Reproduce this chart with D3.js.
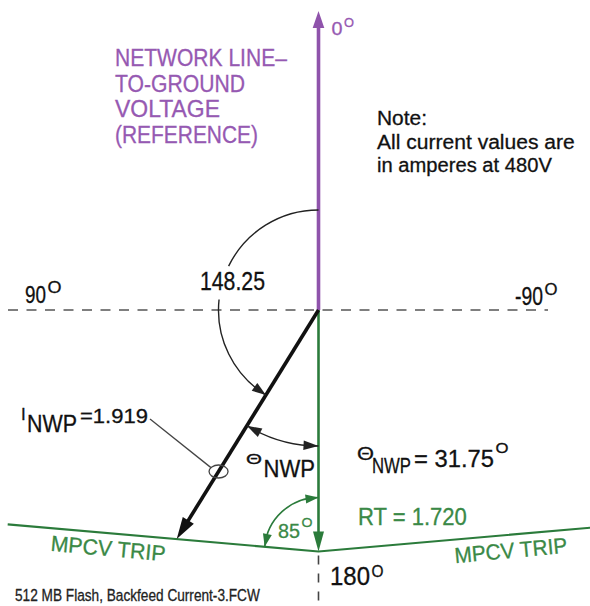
<!DOCTYPE html>
<html>
<head>
<meta charset="utf-8">
<title>Backfeed Current Phasor</title>
<script src="https://d3js.org/d3.v7.min.js"></script>
<style>
  body { margin: 0; background: #fff; }
  text { font-family: "Liberation Sans", Arial, Helvetica, sans-serif; stroke-width: 0.3px; }
</style>
</head>
<body>
<div id="chart"></div>
<script>
// values: amps at 480V, angles in degrees (0 = up, + = counter-clockwise)
var axisAngles = [0, 90, -90, 180];
var axisLabels = ['0', '90', '-90', '180'];
var phasorNames = ['I_NWP', 'RT'];
var phasorMagnitudes = [1.919, 1.720];
var phasorAngles = [148.25, 180];
var referenceMagnitude = 2.13;   // voltage reference, drawn length only
var tripAngle = 85;
var thetaNWP = 31.75;
var titleLines = ['NETWORK LINE\u2013', 'TO-GROUND', 'VOLTAGE', '(REFERENCE)'];
var noteLines = ['Note:', 'All current values are', 'in amperes at 480V'];
var footerText = '512 MB Flash, Backfeed Current-3.FCW';

// layout
var width = 590, height = 606;
var cx = 318.5, cy = 310;
var purple = '#8f53ab', purpleText = '#9659b2';
var green = '#2b7b3b', greenText = '#3a8946';
var ink = '#111';

var r = d3.scaleLinear().domain([0, 1]).range([0, 140.4]);

var svg = d3.select('#chart').append('svg')
  .attr('width', width)
  .attr('height', height);

function dirVec(deg) {
  var a = deg * Math.PI / 180;
  return [-Math.sin(a), -Math.cos(a)];
}
function polarPx(c, px, deg) {
  var d = dirVec(deg);
  return [c[0] + px * d[0], c[1] + px * d[1]];
}
function polar(mag, deg) {
  return polarPx([cx, cy], r(mag), deg);
}

function arrowHead(tip, base, halfW, color) {
  var dx = tip[0] - base[0], dy = tip[1] - base[1];
  var L = Math.sqrt(dx * dx + dy * dy);
  var nx = -dy / L * halfW, ny = dx / L * halfW;
  svg.append('path')
    .attr('d', 'M' + tip + 'L' + [base[0] + nx, base[1] + ny] + 'L' + [base[0] - nx, base[1] - ny] + 'Z')
    .attr('fill', color);
}

function arcPath(c, px, t0, t1) {
  var p = d3.path();
  var f0 = (-90 - t0) * Math.PI / 180, f1 = (-90 - t1) * Math.PI / 180;
  p.arc(c[0], c[1], px, f0, f1, t1 > t0);
  return p.toString();
}

// arc from t0 to t1 (degrees), optional arrowheads at either end
function angleArc(c, px, t0, t1, color, sw, head0, head1, len, halfW) {
  svg.append('path')
    .attr('d', arcPath(c, px, t0, t1))
    .attr('fill', 'none')
    .attr('stroke', color)
    .attr('stroke-width', sw);
  var da = len / px * 180 / Math.PI * (t1 > t0 ? 1 : -1);
  if (head1) arrowHead(polarPx(c, px, t1), polarPx(c, px, t1 - da), halfW, color);
  if (head0) arrowHead(polarPx(c, px, t0), polarPx(c, px, t0 + da), halfW, color);
}

// text squeezed horizontally to the width it has in the drawing
function label(x, y, str, size, len, color, rot, anchor) {
  var g = svg.append('g');
  var t = g.append('text')
    .attr('font-size', size)
    .attr('fill', color)
    .attr('stroke', color)
    .text(str);
  var k = 1;
  if (len) {
    var w = t.node().getComputedTextLength();
    if (w > 0) k = len / w;
  }
  if (anchor) t.attr('text-anchor', anchor);
  g.attr('transform', 'translate(' + x + ',' + y + ')' + (rot ? ' rotate(' + rot + ')' : '') + ' scale(' + k + ',1)');
  return t;
}

// number followed by a raised small "O" as the degree mark
function degLabel(o, num, color) {
  label(o.x, o.y, num, o.size, o.len, color);
  label(o.x + o.len + 1.5, o.y - o.shift, 'O', o.size * 0.64, o.oLen, color);
}

// ---- dashed axes (90 / -90 horizontal, 180 below the trip point)
var axisReach = [0, 310.5, 229.5, 0];
svg.append('line')
  .attr('x1', polarPx([cx, cy], axisReach[1], axisAngles[1])[0])
  .attr('y1', cy)
  .attr('x2', polarPx([cx, cy], axisReach[2], axisAngles[2])[0])
  .attr('y2', cy)
  .attr('stroke', '#555')
  .attr('stroke-width', 1.6)
  .attr('stroke-dasharray', '10,8.5');

var rtTip = polar(phasorMagnitudes[1], phasorAngles[1]);
svg.append('line')
  .attr('x1', rtTip[0]).attr('y1', rtTip[1] + 4)
  .attr('x2', rtTip[0]).attr('y2', height + 5)
  .attr('stroke', '#444')
  .attr('stroke-width', 1.6)
  .attr('stroke-dasharray', '9,9');

// ---- MPCV trip characteristic: line through RT at 85 degrees to the RT phasor
var back = phasorAngles[1] + 180;
var tripLeft = polarPx(rtTip, 312, back + tripAngle);
var tripRight = polarPx(rtTip, 276, back - tripAngle);
svg.append('path')
  .attr('d', 'M' + tripLeft + 'L' + rtTip + 'L' + tripRight)
  .attr('fill', 'none')
  .attr('stroke', green)
  .attr('stroke-width', 2.2);

// 85 degree arc
angleArc(rtTip, 54, back, back + tripAngle, green, 1.6, true, true, 13, 4.5);

// ---- reference (0 degrees)
var refTip = polar(referenceMagnitude, axisAngles[0]);
var refBase = polar(referenceMagnitude - 17 / r(1), axisAngles[0]);
svg.append('line')
  .attr('x1', cx).attr('y1', cy)
  .attr('x2', refBase[0]).attr('y2', refBase[1] - 2)
  .attr('stroke', purple)
  .attr('stroke-width', 3.6);
arrowHead(refTip, refBase, 5.8, purple);

// ---- RT phasor (green)
var rtBase = polar(phasorMagnitudes[1] - 20 / r(1), phasorAngles[1]);
svg.append('line')
  .attr('x1', cx).attr('y1', cy)
  .attr('x2', rtBase[0]).attr('y2', rtBase[1] + 2)
  .attr('stroke', green)
  .attr('stroke-width', 2.6);
arrowHead(rtTip, rtBase, 5.5, green);

// ---- I_NWP phasor (black)
var iTip = polar(phasorMagnitudes[0], phasorAngles[0]);
var iBase = polar(phasorMagnitudes[0] - 22 / r(1), phasorAngles[0]);
var iLineEnd = polar(phasorMagnitudes[0] - 12 / r(1), phasorAngles[0]);
svg.append('line')
  .attr('x1', cx).attr('y1', cy)
  .attr('x2', iLineEnd[0]).attr('y2', iLineEnd[1])
  .attr('stroke', ink)
  .attr('stroke-width', 3.6);
arrowHead(iTip, iBase, 6.5, ink);

// 148.25 arc from the reference, broken around its label
angleArc([cx, cy], 100, 0, 64, '#222', 1.4, false, false, 13, 4.5);
angleArc([cx, cy], 100, 84, phasorAngles[0], '#222', 1.4, false, true, 14, 4.8);

// theta_NWP arc between I_NWP and the RT axis
angleArc([cx, cy], 136, phasorAngles[0], phasorAngles[1], '#222', 1.4, true, true, 15, 4.8);

// leader from I_NWP label to the phasor
var ring = polar(phasorMagnitudes[0] * 0.705, phasorAngles[0]);
svg.append('ellipse')
  .attr('cx', ring[0]).attr('cy', ring[1])
  .attr('rx', 9.5).attr('ry', 6.5)
  .attr('fill', 'none')
  .attr('stroke', '#444')
  .attr('stroke-width', 1.3);
svg.append('line')
  .attr('x1', 150).attr('y1', 419)
  .attr('x2', ring[0] - 7.6).attr('y2', ring[1] - 3.9)
  .attr('stroke', '#444')
  .attr('stroke-width', 1.3);

// ---- texts
var titleLen = [172, 130, 105, 143];
titleLines.forEach(function(s, i) {
  label(115, 66 + i * 25.6, s, 23.5, titleLen[i], purpleText);
});

var noteLen = [50, 198, 175];
var noteY = [125, 148.5, 171.5];
noteLines.forEach(function(s, i) {
  label(377, noteY[i], s, 21, noteLen[i], ink);
});

var axisLabelLayout = [
  {x: 331.5, y: 35, size: 19, len: 11, shift: 8.5, oLen: 10},
  {x: 25, y: 303.3, size: 24.5, len: 21, shift: 10, oLen: 14},
  {x: 515, y: 305, size: 25, len: 28, shift: 10.5, oLen: 13},
  {x: 330, y: 585, size: 25, len: 40, shift: 8.5, oLen: 12}
];
axisLabels.forEach(function(s, i) {
  degLabel(axisLabelLayout[i], s, i === 0 ? purpleText : ink);
});

label(200, 290, String(phasorAngles[0]), 25, 65, ink);

degLabel({x: 278, y: 538, size: 21, len: 22, shift: 11, oLen: 11}, String(tripAngle), greenText);

label(358, 525, 'RT =  ' + phasorMagnitudes[1].toFixed(3), 23, 109, greenText);

label(107.5, 556, 'MPCV TRIP', 22, 115, greenText, 5.3, 'middle');
label(511.5, 558, 'MPCV TRIP', 22, 113, greenText, -5.3, 'middle');

// I_NWP = 1.919
label(21, 420, 'I', 17, null, ink);
label(27, 432, phasorNames[0].split('_')[1], 24, 50, ink);
label(80, 423, '=' + phasorMagnitudes[0].toFixed(3), 21, 68, ink);

// theta_NWP under the arc
label(246, 464, '\u0398', 14, 16, ink);
label(263.5, 477, 'NWP', 23.5, 51.5, ink);

// theta_NWP = 31.75
label(357, 460, '\u0398', 18, 17, ink);
label(372, 473, 'NWP', 22, 39, ink);
degLabel({x: 414, y: 467, size: 24, len: 80, shift: 14, oLen: 13}, '= ' + thetaNWP, ink);

label(15, 601, footerText, 17, 245, '#222');
</script>
</body>
</html>
